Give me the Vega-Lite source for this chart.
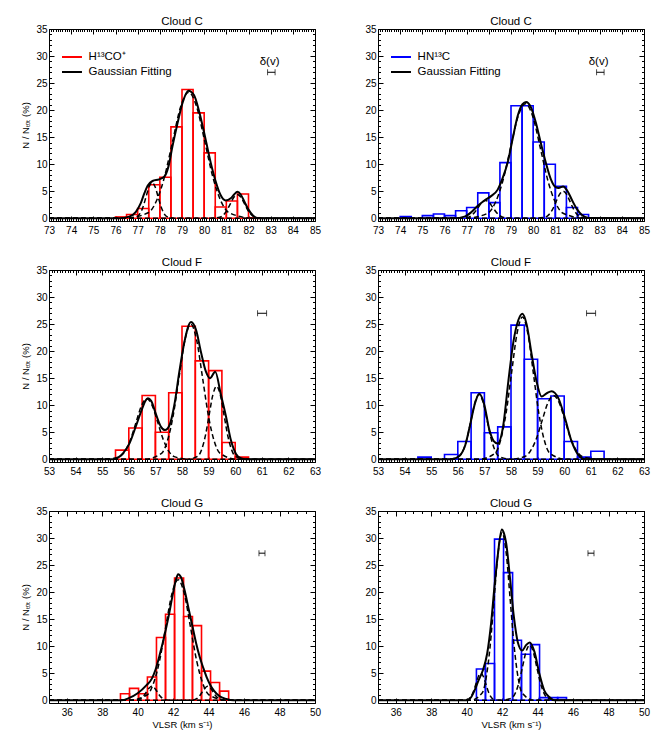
{
  "$schema": "https://vega.github.io/schema/vega-lite/v6.json",
  "background": "white",
  "padding": {"left": 20, "top": 15, "right": 5, "bottom": 5},
  "datasets": {
    "bars": [
      {"p": "C1", "lo": 76, "hi": 76.5, "n": 0.25},
      {"p": "C1", "lo": 76.5, "hi": 77, "n": 0.7},
      {"p": "C1", "lo": 77, "hi": 77.5, "n": 1.8},
      {"p": "C1", "lo": 77.5, "hi": 78, "n": 6.2},
      {"p": "C1", "lo": 78, "hi": 78.5, "n": 7.6},
      {"p": "C1", "lo": 78.5, "hi": 79, "n": 16.9},
      {"p": "C1", "lo": 79, "hi": 79.5, "n": 23.8},
      {"p": "C1", "lo": 79.5, "hi": 80, "n": 19.5},
      {"p": "C1", "lo": 80, "hi": 80.5, "n": 12.1},
      {"p": "C1", "lo": 80.5, "hi": 81, "n": 2.1},
      {"p": "C1", "lo": 81, "hi": 81.5, "n": 3.2},
      {"p": "C1", "lo": 81.5, "hi": 82, "n": 4.5},
      {"p": "C1", "lo": 82, "hi": 82.5, "n": 0.1},
      {"p": "C2", "lo": 74, "hi": 74.5, "n": 0.3},
      {"p": "C2", "lo": 75, "hi": 75.5, "n": 0.5},
      {"p": "C2", "lo": 75.5, "hi": 76, "n": 0.8},
      {"p": "C2", "lo": 76, "hi": 76.5, "n": 0.5},
      {"p": "C2", "lo": 76.5, "hi": 77, "n": 1.4},
      {"p": "C2", "lo": 77, "hi": 77.5, "n": 2.0},
      {"p": "C2", "lo": 77.5, "hi": 78, "n": 4.7},
      {"p": "C2", "lo": 78, "hi": 78.5, "n": 2.9},
      {"p": "C2", "lo": 78.5, "hi": 79, "n": 10.3},
      {"p": "C2", "lo": 79, "hi": 79.5, "n": 20.8},
      {"p": "C2", "lo": 79.5, "hi": 80, "n": 20.8},
      {"p": "C2", "lo": 80, "hi": 80.5, "n": 14.1},
      {"p": "C2", "lo": 80.5, "hi": 81, "n": 10.0},
      {"p": "C2", "lo": 81, "hi": 81.5, "n": 5.9},
      {"p": "C2", "lo": 81.5, "hi": 82, "n": 2.0},
      {"p": "C2", "lo": 82, "hi": 82.5, "n": 0.7},
      {"p": "F1", "lo": 55.5, "hi": 56, "n": 1.7},
      {"p": "F1", "lo": 56, "hi": 56.5, "n": 5.8},
      {"p": "F1", "lo": 56.5, "hi": 57, "n": 11.8},
      {"p": "F1", "lo": 57, "hi": 57.5, "n": 5.0},
      {"p": "F1", "lo": 57.5, "hi": 58, "n": 12.3},
      {"p": "F1", "lo": 58, "hi": 58.5, "n": 24.6},
      {"p": "F1", "lo": 58.5, "hi": 59, "n": 18.2},
      {"p": "F1", "lo": 59, "hi": 59.5, "n": 16.4},
      {"p": "F1", "lo": 59.5, "hi": 60, "n": 3.1},
      {"p": "F1", "lo": 60, "hi": 60.5, "n": 0.4},
      {"p": "F2", "lo": 54.5, "hi": 55, "n": 0.4},
      {"p": "F2", "lo": 55.5, "hi": 56, "n": 0.9},
      {"p": "F2", "lo": 56, "hi": 56.5, "n": 3.3},
      {"p": "F2", "lo": 56.5, "hi": 57, "n": 12.3},
      {"p": "F2", "lo": 57, "hi": 57.5, "n": 4.9},
      {"p": "F2", "lo": 57.5, "hi": 58, "n": 6.0},
      {"p": "F2", "lo": 58, "hi": 58.5, "n": 24.8},
      {"p": "F2", "lo": 58.5, "hi": 59, "n": 18.5},
      {"p": "F2", "lo": 59, "hi": 59.5, "n": 11.2},
      {"p": "F2", "lo": 59.5, "hi": 60, "n": 11.7},
      {"p": "F2", "lo": 60, "hi": 60.5, "n": 3.3},
      {"p": "F2", "lo": 60.5, "hi": 61, "n": 0.4},
      {"p": "F2", "lo": 61, "hi": 61.5, "n": 1.5},
      {"p": "G1", "lo": 39.03, "hi": 39.54, "n": 1.2},
      {"p": "G1", "lo": 39.54, "hi": 40.05, "n": 2.2},
      {"p": "G1", "lo": 40.05, "hi": 40.55, "n": 1.2},
      {"p": "G1", "lo": 40.55, "hi": 41.06, "n": 4.3},
      {"p": "G1", "lo": 41.06, "hi": 41.57, "n": 11.6},
      {"p": "G1", "lo": 41.57, "hi": 42.08, "n": 15.9},
      {"p": "G1", "lo": 42.08, "hi": 42.59, "n": 22.6},
      {"p": "G1", "lo": 42.59, "hi": 43.09, "n": 15.5},
      {"p": "G1", "lo": 43.09, "hi": 43.6, "n": 13.8},
      {"p": "G1", "lo": 43.6, "hi": 44.11, "n": 5.4},
      {"p": "G1", "lo": 44.11, "hi": 44.62, "n": 3.3},
      {"p": "G1", "lo": 44.62, "hi": 45.13, "n": 1.7},
      {"p": "G2", "lo": 40.55, "hi": 41.06, "n": 5.8},
      {"p": "G2", "lo": 41.06, "hi": 41.57, "n": 6.8},
      {"p": "G2", "lo": 41.57, "hi": 42.08, "n": 29.8},
      {"p": "G2", "lo": 42.08, "hi": 42.59, "n": 23.6},
      {"p": "G2", "lo": 42.59, "hi": 43.09, "n": 11.1},
      {"p": "G2", "lo": 43.09, "hi": 43.6, "n": 8.5},
      {"p": "G2", "lo": 43.6, "hi": 44.11, "n": 10.3},
      {"p": "G2", "lo": 44.11, "hi": 44.62, "n": 0.5},
      {"p": "G2", "lo": 44.62, "hi": 45.13, "n": 0.5},
      {"p": "G2", "lo": 45.13, "hi": 45.63, "n": 0.5}
    ],
    "fits": [
      {"p": "C1", "v": 73, "n": 0}, {"p": "C1", "v": 76.17, "n": 0}, {"p": "C1", "v": 76.62, "n": 0.3},
      {"p": "C1", "v": 76.92, "n": 1.2}, {"p": "C1", "v": 77.14, "n": 2.8}, {"p": "C1", "v": 77.3, "n": 4.6},
      {"p": "C1", "v": 77.45, "n": 6.0}, {"p": "C1", "v": 77.67, "n": 6.9}, {"p": "C1", "v": 77.97, "n": 7.2},
      {"p": "C1", "v": 78.2, "n": 7.7}, {"p": "C1", "v": 78.39, "n": 9.6}, {"p": "C1", "v": 78.57, "n": 13.3},
      {"p": "C1", "v": 78.8, "n": 17.6}, {"p": "C1", "v": 79.02, "n": 21.3}, {"p": "C1", "v": 79.29, "n": 23.6},
      {"p": "C1", "v": 79.54, "n": 22.8}, {"p": "C1", "v": 79.77, "n": 19.8}, {"p": "C1", "v": 80.07, "n": 14.5},
      {"p": "C1", "v": 80.3, "n": 10.2}, {"p": "C1", "v": 80.52, "n": 6.8}, {"p": "C1", "v": 80.74, "n": 4.3},
      {"p": "C1", "v": 80.97, "n": 3.3}, {"p": "C1", "v": 81.2, "n": 3.7}, {"p": "C1", "v": 81.35, "n": 4.4},
      {"p": "C1", "v": 81.5, "n": 4.9}, {"p": "C1", "v": 81.65, "n": 4.4}, {"p": "C1", "v": 81.8, "n": 3.2},
      {"p": "C1", "v": 82.0, "n": 1.6}, {"p": "C1", "v": 82.2, "n": 0.5}, {"p": "C1", "v": 82.45, "n": 0},
      {"p": "C1", "v": 85, "n": 0},
      {"p": "C2", "v": 73, "n": 0}, {"p": "C2", "v": 76.45, "n": 0}, {"p": "C2", "v": 76.9, "n": 0.3},
      {"p": "C2", "v": 77.2, "n": 1.1}, {"p": "C2", "v": 77.5, "n": 2.3}, {"p": "C2", "v": 77.8, "n": 3.3},
      {"p": "C2", "v": 78.1, "n": 4.1}, {"p": "C2", "v": 78.4, "n": 5.3}, {"p": "C2", "v": 78.6, "n": 7.2},
      {"p": "C2", "v": 78.85, "n": 10.3}, {"p": "C2", "v": 79.07, "n": 14.6}, {"p": "C2", "v": 79.3, "n": 18.9},
      {"p": "C2", "v": 79.52, "n": 21.1}, {"p": "C2", "v": 79.68, "n": 21.5}, {"p": "C2", "v": 79.9, "n": 20.5},
      {"p": "C2", "v": 80.12, "n": 17.7}, {"p": "C2", "v": 80.34, "n": 14.0}, {"p": "C2", "v": 80.57, "n": 10.3},
      {"p": "C2", "v": 80.8, "n": 7.2}, {"p": "C2", "v": 81.0, "n": 5.8}, {"p": "C2", "v": 81.15, "n": 5.6},
      {"p": "C2", "v": 81.35, "n": 5.9}, {"p": "C2", "v": 81.54, "n": 5.1}, {"p": "C2", "v": 81.76, "n": 3.3},
      {"p": "C2", "v": 81.99, "n": 1.6}, {"p": "C2", "v": 82.2, "n": 0.6}, {"p": "C2", "v": 82.5, "n": 0.05},
      {"p": "C2", "v": 85, "n": 0},
      {"p": "F1", "v": 53, "n": 0}, {"p": "F1", "v": 55.4, "n": 0}, {"p": "F1", "v": 55.59, "n": 0.3},
      {"p": "F1", "v": 55.78, "n": 1.1}, {"p": "F1", "v": 56.03, "n": 3.0}, {"p": "F1", "v": 56.28, "n": 6.3},
      {"p": "F1", "v": 56.46, "n": 8.8}, {"p": "F1", "v": 56.65, "n": 11.0}, {"p": "F1", "v": 56.72, "n": 11.3},
      {"p": "F1", "v": 56.84, "n": 10.8}, {"p": "F1", "v": 57.03, "n": 8.2}, {"p": "F1", "v": 57.21, "n": 6.0},
      {"p": "F1", "v": 57.36, "n": 5.4}, {"p": "F1", "v": 57.53, "n": 6.3}, {"p": "F1", "v": 57.71, "n": 10.0},
      {"p": "F1", "v": 57.9, "n": 16.2}, {"p": "F1", "v": 58.09, "n": 21.7}, {"p": "F1", "v": 58.34, "n": 25.4},
      {"p": "F1", "v": 58.53, "n": 23.9}, {"p": "F1", "v": 58.71, "n": 19.9}, {"p": "F1", "v": 58.9, "n": 16.2},
      {"p": "F1", "v": 59.05, "n": 15.0}, {"p": "F1", "v": 59.25, "n": 16.2}, {"p": "F1", "v": 59.46, "n": 12.0},
      {"p": "F1", "v": 59.65, "n": 8.0}, {"p": "F1", "v": 59.84, "n": 3.5}, {"p": "F1", "v": 60.03, "n": 1.0},
      {"p": "F1", "v": 60.21, "n": 0.2}, {"p": "F1", "v": 60.4, "n": 0}, {"p": "F1", "v": 63, "n": 0},
      {"p": "F2", "v": 53, "n": 0}, {"p": "F2", "v": 55.78, "n": 0}, {"p": "F2", "v": 56.03, "n": 0.5},
      {"p": "F2", "v": 56.28, "n": 2.6}, {"p": "F2", "v": 56.46, "n": 6.3}, {"p": "F2", "v": 56.65, "n": 10.4},
      {"p": "F2", "v": 56.81, "n": 12.1}, {"p": "F2", "v": 57.0, "n": 10.0}, {"p": "F2", "v": 57.19, "n": 5.4},
      {"p": "F2", "v": 57.36, "n": 3.3}, {"p": "F2", "v": 57.5, "n": 2.9}, {"p": "F2", "v": 57.71, "n": 6.3},
      {"p": "F2", "v": 57.9, "n": 14.4}, {"p": "F2", "v": 58.09, "n": 21.7}, {"p": "F2", "v": 58.28, "n": 25.8},
      {"p": "F2", "v": 58.43, "n": 26.9}, {"p": "F2", "v": 58.59, "n": 24.9}, {"p": "F2", "v": 58.78, "n": 19.3},
      {"p": "F2", "v": 58.96, "n": 14.4}, {"p": "F2", "v": 59.15, "n": 11.6}, {"p": "F2", "v": 59.34, "n": 12.2},
      {"p": "F2", "v": 59.53, "n": 12.6}, {"p": "F2", "v": 59.78, "n": 11.3}, {"p": "F2", "v": 60.03, "n": 7.6},
      {"p": "F2", "v": 60.28, "n": 3.3}, {"p": "F2", "v": 60.53, "n": 0.8}, {"p": "F2", "v": 60.78, "n": 0},
      {"p": "F2", "v": 63, "n": 0},
      {"p": "G1", "v": 35, "n": 0}, {"p": "G1", "v": 39.1, "n": 0}, {"p": "G1", "v": 39.5, "n": 0.4},
      {"p": "G1", "v": 40.0, "n": 1.3}, {"p": "G1", "v": 40.5, "n": 2.8}, {"p": "G1", "v": 40.8, "n": 4.0},
      {"p": "G1", "v": 41.0, "n": 5.6}, {"p": "G1", "v": 41.25, "n": 8.5}, {"p": "G1", "v": 41.5, "n": 11.8},
      {"p": "G1", "v": 41.75, "n": 15.6}, {"p": "G1", "v": 42.0, "n": 19.9}, {"p": "G1", "v": 42.15, "n": 22.2},
      {"p": "G1", "v": 42.28, "n": 23.3}, {"p": "G1", "v": 42.45, "n": 22.7}, {"p": "G1", "v": 42.62, "n": 20.7},
      {"p": "G1", "v": 42.9, "n": 16.5}, {"p": "G1", "v": 43.1, "n": 13.5}, {"p": "G1", "v": 43.3, "n": 10.5},
      {"p": "G1", "v": 43.5, "n": 8.0}, {"p": "G1", "v": 43.7, "n": 6.0}, {"p": "G1", "v": 43.9, "n": 4.2},
      {"p": "G1", "v": 44.1, "n": 2.8}, {"p": "G1", "v": 44.3, "n": 1.8}, {"p": "G1", "v": 44.6, "n": 0.8},
      {"p": "G1", "v": 45.0, "n": 0.25}, {"p": "G1", "v": 45.4, "n": 0}, {"p": "G1", "v": 50, "n": 0},
      {"p": "G2", "v": 35, "n": 0}, {"p": "G2", "v": 40.07, "n": 0}, {"p": "G2", "v": 40.26, "n": 0.6},
      {"p": "G2", "v": 40.44, "n": 1.8}, {"p": "G2", "v": 40.67, "n": 3.7}, {"p": "G2", "v": 40.91, "n": 5.5},
      {"p": "G2", "v": 41.16, "n": 8.7}, {"p": "G2", "v": 41.38, "n": 14.3}, {"p": "G2", "v": 41.57, "n": 21.1},
      {"p": "G2", "v": 41.76, "n": 27.0}, {"p": "G2", "v": 41.98, "n": 31.6}, {"p": "G2", "v": 42.1, "n": 30.9},
      {"p": "G2", "v": 42.23, "n": 29.0}, {"p": "G2", "v": 42.45, "n": 22.4}, {"p": "G2", "v": 42.66, "n": 15.5},
      {"p": "G2", "v": 42.88, "n": 10.8}, {"p": "G2", "v": 43.13, "n": 9.2}, {"p": "G2", "v": 43.35, "n": 10.2},
      {"p": "G2", "v": 43.55, "n": 10.7}, {"p": "G2", "v": 43.82, "n": 9.0}, {"p": "G2", "v": 44.1, "n": 4.9},
      {"p": "G2", "v": 44.38, "n": 1.8}, {"p": "G2", "v": 44.66, "n": 0.6}, {"p": "G2", "v": 44.94, "n": 0},
      {"p": "G2", "v": 50, "n": 0}
    ],
    "comps": [
      {"p": "C1", "g": "a", "v": 73, "n": 0}, {"p": "C1", "g": "a", "v": 76.57, "n": 0}, {"p": "C1", "g": "a", "v": 76.975, "n": 0.29}, {"p": "C1", "g": "a", "v": 77.11, "n": 0.89},
      {"p": "C1", "g": "a", "v": 77.245, "n": 2.14}, {"p": "C1", "g": "a", "v": 77.38, "n": 4.0}, {"p": "C1", "g": "a", "v": 77.515, "n": 5.82},
      {"p": "C1", "g": "a", "v": 77.65, "n": 6.6}, {"p": "C1", "g": "a", "v": 77.785, "n": 5.82}, {"p": "C1", "g": "a", "v": 77.92, "n": 4.0},
      {"p": "C1", "g": "a", "v": 78.055, "n": 2.14}, {"p": "C1", "g": "a", "v": 78.19, "n": 0.89}, {"p": "C1", "g": "a", "v": 78.325, "n": 0.29},
      {"p": "C1", "g": "a", "v": 78.73, "n": 0}, {"p": "C1", "g": "a", "v": 85, "n": 0},
      {"p": "C1", "g": "b", "v": 73, "n": 0}, {"p": "C1", "g": "b", "v": 76.38, "n": 0}, {"p": "C1", "g": "b", "v": 77.475, "n": 1.02}, {"p": "C1", "g": "b", "v": 77.84, "n": 3.15},
      {"p": "C1", "g": "b", "v": 78.205, "n": 7.57}, {"p": "C1", "g": "b", "v": 78.57, "n": 14.13}, {"p": "C1", "g": "b", "v": 78.935, "n": 20.56},
      {"p": "C1", "g": "b", "v": 79.3, "n": 23.3}, {"p": "C1", "g": "b", "v": 79.665, "n": 20.56}, {"p": "C1", "g": "b", "v": 80.03, "n": 14.13},
      {"p": "C1", "g": "b", "v": 80.395, "n": 7.57}, {"p": "C1", "g": "b", "v": 80.76, "n": 3.15}, {"p": "C1", "g": "b", "v": 81.125, "n": 1.02},
      {"p": "C1", "g": "b", "v": 82.22, "n": 0}, {"p": "C1", "g": "b", "v": 85, "n": 0},
      {"p": "C1", "g": "c", "v": 73, "n": 0}, {"p": "C1", "g": "c", "v": 80.22, "n": 0}, {"p": "C1", "g": "c", "v": 80.7, "n": 0.19}, {"p": "C1", "g": "c", "v": 80.86, "n": 0.6},
      {"p": "C1", "g": "c", "v": 81.02, "n": 1.43}, {"p": "C1", "g": "c", "v": 81.18, "n": 2.67}, {"p": "C1", "g": "c", "v": 81.34, "n": 3.88},
      {"p": "C1", "g": "c", "v": 81.5, "n": 4.4}, {"p": "C1", "g": "c", "v": 81.66, "n": 3.88}, {"p": "C1", "g": "c", "v": 81.82, "n": 2.67},
      {"p": "C1", "g": "c", "v": 81.98, "n": 1.43}, {"p": "C1", "g": "c", "v": 82.14, "n": 0.6}, {"p": "C1", "g": "c", "v": 82.3, "n": 0.19},
      {"p": "C1", "g": "c", "v": 82.78, "n": 0}, {"p": "C1", "g": "c", "v": 85, "n": 0},
      {"p": "C2", "g": "a", "v": 73, "n": 0}, {"p": "C2", "g": "a", "v": 76.53, "n": 0}, {"p": "C2", "g": "a", "v": 77.025, "n": 0.14}, {"p": "C2", "g": "a", "v": 77.19, "n": 0.45},
      {"p": "C2", "g": "a", "v": 77.355, "n": 1.07}, {"p": "C2", "g": "a", "v": 77.52, "n": 2.0}, {"p": "C2", "g": "a", "v": 77.685, "n": 2.91},
      {"p": "C2", "g": "a", "v": 77.85, "n": 3.3}, {"p": "C2", "g": "a", "v": 78.015, "n": 2.91}, {"p": "C2", "g": "a", "v": 78.18, "n": 2.0},
      {"p": "C2", "g": "a", "v": 78.345, "n": 1.07}, {"p": "C2", "g": "a", "v": 78.51, "n": 0.45}, {"p": "C2", "g": "a", "v": 78.675, "n": 0.14},
      {"p": "C2", "g": "a", "v": 79.17, "n": 0}, {"p": "C2", "g": "a", "v": 85, "n": 0},
      {"p": "C2", "g": "b", "v": 73, "n": 0}, {"p": "C2", "g": "b", "v": 76.93, "n": 0}, {"p": "C2", "g": "b", "v": 77.95, "n": 0.93}, {"p": "C2", "g": "b", "v": 78.29, "n": 2.87},
      {"p": "C2", "g": "b", "v": 78.63, "n": 6.88}, {"p": "C2", "g": "b", "v": 78.97, "n": 12.86}, {"p": "C2", "g": "b", "v": 79.31, "n": 18.71},
      {"p": "C2", "g": "b", "v": 79.65, "n": 21.2}, {"p": "C2", "g": "b", "v": 79.99, "n": 18.71}, {"p": "C2", "g": "b", "v": 80.33, "n": 12.86},
      {"p": "C2", "g": "b", "v": 80.67, "n": 6.88}, {"p": "C2", "g": "b", "v": 81.01, "n": 2.87}, {"p": "C2", "g": "b", "v": 81.35, "n": 0.93},
      {"p": "C2", "g": "b", "v": 82.37, "n": 0}, {"p": "C2", "g": "b", "v": 85, "n": 0},
      {"p": "C2", "g": "c", "v": 73, "n": 0}, {"p": "C2", "g": "c", "v": 80.07, "n": 0}, {"p": "C2", "g": "c", "v": 80.55, "n": 0.22}, {"p": "C2", "g": "c", "v": 80.71, "n": 0.68},
      {"p": "C2", "g": "c", "v": 80.87, "n": 1.62}, {"p": "C2", "g": "c", "v": 81.03, "n": 3.03}, {"p": "C2", "g": "c", "v": 81.19, "n": 4.41},
      {"p": "C2", "g": "c", "v": 81.35, "n": 5.0}, {"p": "C2", "g": "c", "v": 81.51, "n": 4.41}, {"p": "C2", "g": "c", "v": 81.67, "n": 3.03},
      {"p": "C2", "g": "c", "v": 81.83, "n": 1.62}, {"p": "C2", "g": "c", "v": 81.99, "n": 0.68}, {"p": "C2", "g": "c", "v": 82.15, "n": 0.22},
      {"p": "C2", "g": "c", "v": 82.63, "n": 0}, {"p": "C2", "g": "c", "v": 85, "n": 0},
      {"p": "F1", "g": "a", "v": 53, "n": 0}, {"p": "F1", "g": "a", "v": 55.04, "n": 0}, {"p": "F1", "g": "a", "v": 55.655, "n": 0.49}, {"p": "F1", "g": "a", "v": 55.86, "n": 1.52},
      {"p": "F1", "g": "a", "v": 56.065, "n": 3.64}, {"p": "F1", "g": "a", "v": 56.27, "n": 6.79}, {"p": "F1", "g": "a", "v": 56.475, "n": 9.88},
      {"p": "F1", "g": "a", "v": 56.68, "n": 11.2}, {"p": "F1", "g": "a", "v": 56.885, "n": 9.88}, {"p": "F1", "g": "a", "v": 57.09, "n": 6.79},
      {"p": "F1", "g": "a", "v": 57.295, "n": 3.64}, {"p": "F1", "g": "a", "v": 57.5, "n": 1.52}, {"p": "F1", "g": "a", "v": 57.705, "n": 0.49},
      {"p": "F1", "g": "a", "v": 58.32, "n": 0}, {"p": "F1", "g": "a", "v": 63, "n": 0},
      {"p": "F1", "g": "b", "v": 53, "n": 0}, {"p": "F1", "g": "b", "v": 56.57, "n": 0}, {"p": "F1", "g": "b", "v": 57.23, "n": 1.1}, {"p": "F1", "g": "b", "v": 57.45, "n": 3.38},
      {"p": "F1", "g": "b", "v": 57.67, "n": 8.12}, {"p": "F1", "g": "b", "v": 57.89, "n": 15.16}, {"p": "F1", "g": "b", "v": 58.11, "n": 22.06},
      {"p": "F1", "g": "b", "v": 58.33, "n": 25.0}, {"p": "F1", "g": "b", "v": 58.55, "n": 22.06}, {"p": "F1", "g": "b", "v": 58.77, "n": 15.16},
      {"p": "F1", "g": "b", "v": 58.99, "n": 8.12}, {"p": "F1", "g": "b", "v": 59.21, "n": 3.38}, {"p": "F1", "g": "b", "v": 59.43, "n": 1.1},
      {"p": "F1", "g": "b", "v": 60.09, "n": 0}, {"p": "F1", "g": "b", "v": 63, "n": 0},
      {"p": "F1", "g": "c", "v": 53, "n": 0}, {"p": "F1", "g": "c", "v": 58.18, "n": 0}, {"p": "F1", "g": "c", "v": 58.6, "n": 0.59}, {"p": "F1", "g": "c", "v": 58.74, "n": 1.83},
      {"p": "F1", "g": "c", "v": 58.88, "n": 4.38}, {"p": "F1", "g": "c", "v": 59.02, "n": 8.19}, {"p": "F1", "g": "c", "v": 59.16, "n": 11.91},
      {"p": "F1", "g": "c", "v": 59.3, "n": 13.5}, {"p": "F1", "g": "c", "v": 59.44, "n": 11.91}, {"p": "F1", "g": "c", "v": 59.58, "n": 8.19},
      {"p": "F1", "g": "c", "v": 59.72, "n": 4.38}, {"p": "F1", "g": "c", "v": 59.86, "n": 1.83}, {"p": "F1", "g": "c", "v": 60.0, "n": 0.59},
      {"p": "F1", "g": "c", "v": 60.42, "n": 0}, {"p": "F1", "g": "c", "v": 63, "n": 0},
      {"p": "F2", "g": "a", "v": 53, "n": 0}, {"p": "F2", "g": "a", "v": 55.6, "n": 0}, {"p": "F2", "g": "a", "v": 56.05, "n": 0.53}, {"p": "F2", "g": "a", "v": 56.2, "n": 1.62},
      {"p": "F2", "g": "a", "v": 56.35, "n": 3.9}, {"p": "F2", "g": "a", "v": 56.5, "n": 7.28}, {"p": "F2", "g": "a", "v": 56.65, "n": 10.59},
      {"p": "F2", "g": "a", "v": 56.8, "n": 12.0}, {"p": "F2", "g": "a", "v": 56.95, "n": 10.59}, {"p": "F2", "g": "a", "v": 57.1, "n": 7.28},
      {"p": "F2", "g": "a", "v": 57.25, "n": 3.9}, {"p": "F2", "g": "a", "v": 57.4, "n": 1.62}, {"p": "F2", "g": "a", "v": 57.55, "n": 0.53},
      {"p": "F2", "g": "a", "v": 58.0, "n": 0}, {"p": "F2", "g": "a", "v": 63, "n": 0},
      {"p": "F2", "g": "b", "v": 53, "n": 0}, {"p": "F2", "g": "b", "v": 56.79, "n": 0}, {"p": "F2", "g": "b", "v": 57.405, "n": 1.15}, {"p": "F2", "g": "b", "v": 57.61, "n": 3.56},
      {"p": "F2", "g": "b", "v": 57.815, "n": 8.54}, {"p": "F2", "g": "b", "v": 58.02, "n": 15.95}, {"p": "F2", "g": "b", "v": 58.225, "n": 23.21},
      {"p": "F2", "g": "b", "v": 58.43, "n": 26.3}, {"p": "F2", "g": "b", "v": 58.635, "n": 23.21}, {"p": "F2", "g": "b", "v": 58.84, "n": 15.95},
      {"p": "F2", "g": "b", "v": 59.045, "n": 8.54}, {"p": "F2", "g": "b", "v": 59.25, "n": 3.56}, {"p": "F2", "g": "b", "v": 59.455, "n": 1.15},
      {"p": "F2", "g": "b", "v": 60.07, "n": 0}, {"p": "F2", "g": "b", "v": 63, "n": 0},
      {"p": "F2", "g": "c", "v": 53, "n": 0}, {"p": "F2", "g": "c", "v": 57.88, "n": 0}, {"p": "F2", "g": "c", "v": 58.525, "n": 0.52}, {"p": "F2", "g": "c", "v": 58.74, "n": 1.6},
      {"p": "F2", "g": "c", "v": 58.955, "n": 3.83}, {"p": "F2", "g": "c", "v": 59.17, "n": 7.16}, {"p": "F2", "g": "c", "v": 59.385, "n": 10.41},
      {"p": "F2", "g": "c", "v": 59.6, "n": 11.8}, {"p": "F2", "g": "c", "v": 59.815, "n": 10.41}, {"p": "F2", "g": "c", "v": 60.03, "n": 7.16},
      {"p": "F2", "g": "c", "v": 60.245, "n": 3.83}, {"p": "F2", "g": "c", "v": 60.46, "n": 1.6}, {"p": "F2", "g": "c", "v": 60.675, "n": 0.52},
      {"p": "F2", "g": "c", "v": 61.32, "n": 0}, {"p": "F2", "g": "c", "v": 63, "n": 0},
      {"p": "G1", "g": "a", "v": 35, "n": 0}, {"p": "G1", "g": "a", "v": 39.6, "n": 0}, {"p": "G1", "g": "a", "v": 40.05, "n": 0.11}, {"p": "G1", "g": "a", "v": 40.2, "n": 0.35},
      {"p": "G1", "g": "a", "v": 40.35, "n": 0.84}, {"p": "G1", "g": "a", "v": 40.5, "n": 1.58}, {"p": "G1", "g": "a", "v": 40.65, "n": 2.29},
      {"p": "G1", "g": "a", "v": 40.8, "n": 2.6}, {"p": "G1", "g": "a", "v": 40.95, "n": 2.29}, {"p": "G1", "g": "a", "v": 41.1, "n": 1.58},
      {"p": "G1", "g": "a", "v": 41.25, "n": 0.84}, {"p": "G1", "g": "a", "v": 41.4, "n": 0.35}, {"p": "G1", "g": "a", "v": 41.55, "n": 0.11},
      {"p": "G1", "g": "a", "v": 42.0, "n": 0}, {"p": "G1", "g": "a", "v": 50, "n": 0},
      {"p": "G1", "g": "b", "v": 35, "n": 0}, {"p": "G1", "g": "b", "v": 39.48, "n": 0}, {"p": "G1", "g": "b", "v": 40.53, "n": 0.98}, {"p": "G1", "g": "b", "v": 40.88, "n": 3.02},
      {"p": "G1", "g": "b", "v": 41.23, "n": 7.24}, {"p": "G1", "g": "b", "v": 41.58, "n": 13.52}, {"p": "G1", "g": "b", "v": 41.93, "n": 19.68},
      {"p": "G1", "g": "b", "v": 42.28, "n": 22.3}, {"p": "G1", "g": "b", "v": 42.63, "n": 19.68}, {"p": "G1", "g": "b", "v": 42.98, "n": 13.52},
      {"p": "G1", "g": "b", "v": 43.33, "n": 7.24}, {"p": "G1", "g": "b", "v": 43.68, "n": 3.02}, {"p": "G1", "g": "b", "v": 44.03, "n": 0.98},
      {"p": "G1", "g": "b", "v": 45.08, "n": 0}, {"p": "G1", "g": "b", "v": 50, "n": 0},
      {"p": "G1", "g": "c", "v": 35, "n": 0}, {"p": "G1", "g": "c", "v": 42.75, "n": 0}, {"p": "G1", "g": "c", "v": 43.2, "n": 0.11}, {"p": "G1", "g": "c", "v": 43.35, "n": 0.35},
      {"p": "G1", "g": "c", "v": 43.5, "n": 0.84}, {"p": "G1", "g": "c", "v": 43.65, "n": 1.58}, {"p": "G1", "g": "c", "v": 43.8, "n": 2.29},
      {"p": "G1", "g": "c", "v": 43.95, "n": 2.6}, {"p": "G1", "g": "c", "v": 44.1, "n": 2.29}, {"p": "G1", "g": "c", "v": 44.25, "n": 1.58},
      {"p": "G1", "g": "c", "v": 44.4, "n": 0.84}, {"p": "G1", "g": "c", "v": 44.55, "n": 0.35}, {"p": "G1", "g": "c", "v": 44.7, "n": 0.11},
      {"p": "G1", "g": "c", "v": 45.15, "n": 0}, {"p": "G1", "g": "c", "v": 50, "n": 0},
      {"p": "G2", "g": "a", "v": 35, "n": 0}, {"p": "G2", "g": "a", "v": 39.68, "n": 0}, {"p": "G2", "g": "a", "v": 40.1, "n": 0.22}, {"p": "G2", "g": "a", "v": 40.24, "n": 0.68},
      {"p": "G2", "g": "a", "v": 40.38, "n": 1.62}, {"p": "G2", "g": "a", "v": 40.52, "n": 3.03}, {"p": "G2", "g": "a", "v": 40.66, "n": 4.41},
      {"p": "G2", "g": "a", "v": 40.8, "n": 5.0}, {"p": "G2", "g": "a", "v": 40.94, "n": 4.41}, {"p": "G2", "g": "a", "v": 41.08, "n": 3.03},
      {"p": "G2", "g": "a", "v": 41.22, "n": 1.62}, {"p": "G2", "g": "a", "v": 41.36, "n": 0.68}, {"p": "G2", "g": "a", "v": 41.5, "n": 0.22},
      {"p": "G2", "g": "a", "v": 41.92, "n": 0}, {"p": "G2", "g": "a", "v": 50, "n": 0},
      {"p": "G2", "g": "b", "v": 35, "n": 0}, {"p": "G2", "g": "b", "v": 40.2, "n": 0}, {"p": "G2", "g": "b", "v": 40.875, "n": 1.36}, {"p": "G2", "g": "b", "v": 41.1, "n": 4.19},
      {"p": "G2", "g": "b", "v": 41.325, "n": 10.07}, {"p": "G2", "g": "b", "v": 41.55, "n": 18.8}, {"p": "G2", "g": "b", "v": 41.775, "n": 27.36},
      {"p": "G2", "g": "b", "v": 42.0, "n": 31.0}, {"p": "G2", "g": "b", "v": 42.225, "n": 27.36}, {"p": "G2", "g": "b", "v": 42.45, "n": 18.8},
      {"p": "G2", "g": "b", "v": 42.675, "n": 10.07}, {"p": "G2", "g": "b", "v": 42.9, "n": 4.19}, {"p": "G2", "g": "b", "v": 43.125, "n": 1.36},
      {"p": "G2", "g": "b", "v": 43.8, "n": 0}, {"p": "G2", "g": "b", "v": 50, "n": 0},
      {"p": "G2", "g": "c", "v": 35, "n": 0}, {"p": "G2", "g": "c", "v": 41.95, "n": 0}, {"p": "G2", "g": "c", "v": 42.55, "n": 0.45}, {"p": "G2", "g": "c", "v": 42.75, "n": 1.38},
      {"p": "G2", "g": "c", "v": 42.95, "n": 3.31}, {"p": "G2", "g": "c", "v": 43.15, "n": 6.19}, {"p": "G2", "g": "c", "v": 43.35, "n": 9.0},
      {"p": "G2", "g": "c", "v": 43.55, "n": 10.2}, {"p": "G2", "g": "c", "v": 43.75, "n": 9.0}, {"p": "G2", "g": "c", "v": 43.95, "n": 6.19},
      {"p": "G2", "g": "c", "v": 44.15, "n": 3.31}, {"p": "G2", "g": "c", "v": 44.35, "n": 1.38}, {"p": "G2", "g": "c", "v": 44.55, "n": 0.45},
      {"p": "G2", "g": "c", "v": 45.15, "n": 0}, {"p": "G2", "g": "c", "v": 50, "n": 0}
    ],
    "res": [
      {"p": "C1", "lo": 82.86, "hi": 83.2, "y": 27.0},
      {"p": "C2", "lo": 82.86, "hi": 83.2, "y": 27.0},
      {"p": "F1", "lo": 60.84, "hi": 61.18, "y": 27.0},
      {"p": "F2", "lo": 60.84, "hi": 61.18, "y": 27.0},
      {"p": "G1", "lo": 46.84, "hi": 47.18, "y": 27.2},
      {"p": "G2", "lo": 46.84, "hi": 47.18, "y": 27.2}
    ]
  },
  "columns": 2,
  "spacing": {"row": 20, "column": 42},
  "concat": [
    {
      "width": 266, "height": 192,
      "title": "Cloud C",
      "layer": [
        {
          "data": {"name": "bars"},
          "transform": [{"filter": "datum.p == 'C1'"}],
          "mark": {"type": "rect", "filled": false, "strokeWidth": 1.6},
          "encoding": {
            "x": {"field": "lo", "type": "quantitative", "scale": {"domain": [73, 85], "nice": false, "zero": false},
                  "axis": {"orient": "bottom", "values": [73, 74, 75, 76, 77, 78, 79, 80, 81, 82, 83, 84, 85], "tickSize": -5, "labelPadding": 9, "labelFlush": false, "labelOverlap": false, "title": null}},
            "x2": {"field": "hi"},
            "y": {"field": "n", "type": "quantitative", "scale": {"domain": [-0.5, 35], "nice": false, "zero": false},
                  "axis": {"orient": "left", "values": [0, 5, 10, 15, 20, 25, 30, 35], "tickSize": -5, "labelPadding": 7, "title": "N / Nₜₒₜ (%)", "titlePadding": 5}},
            "y2": {"datum": 0},
            "stroke": {"datum": "H¹³CO⁺", "scale": {"domain": ["H¹³CO⁺", "Gaussian Fitting"], "range": ["#ff0000", "#000000"]},
                       "legend": {"orient": "top-left", "title": null, "offset": 17, "padding": 3, "symbolType": "M-2.14,0H0.71", "symbolSize": 196, "symbolStrokeWidth": 2, "labelFontSize": 11.5, "labelOffset": 3.6, "rowPadding": 1, "labelColor": "#000000"}}
          }
        },
        {
          "data": {"name": "comps"},
          "transform": [{"filter": "datum.p == 'C1'"}],
          "mark": {"type": "line", "interpolate": "monotone", "stroke": "#000000", "strokeWidth": 1.5, "strokeDash": [5, 3]},
          "encoding": {
            "x": {"field": "v", "type": "quantitative", "axis": {"orient": "bottom", "tickCount": 120, "tickSize": -2.5, "labels": false, "title": null}},
            "y": {"field": "n", "type": "quantitative", "axis": {"orient": "left", "tickCount": 35, "tickSize": -2.5, "labels": false, "title": null}},
            "detail": {"field": "g"}
          }
        },
        {
          "data": {"name": "fits"},
          "transform": [{"filter": "datum.p == 'C1'"}],
          "mark": {"type": "line", "interpolate": "monotone", "strokeWidth": 2},
          "encoding": {
            "x": {"field": "v", "type": "quantitative", "axis": {"orient": "top", "values": [73, 74, 75, 76, 77, 78, 79, 80, 81, 82, 83, 84, 85], "tickSize": -5, "labels": false, "title": null}},
            "y": {"field": "n", "type": "quantitative", "axis": {"orient": "right", "values": [0, 5, 10, 15, 20, 25, 30, 35], "tickSize": -5, "labels": false, "title": null}},
            "stroke": {"datum": "Gaussian Fitting"}
          }
        },
        {
          "data": {"name": "res"},
          "transform": [{"filter": "datum.p == 'C1'"}],
          "mark": {"type": "rule", "stroke": "#000000", "strokeWidth": 1},
          "encoding": {
            "x": {"field": "lo", "type": "quantitative", "axis": {"orient": "top", "tickCount": 120, "tickSize": -2.5, "labels": false, "title": null}},
            "x2": {"field": "hi"},
            "y": {"field": "y", "type": "quantitative", "axis": {"orient": "right", "tickCount": 35, "tickSize": -2.5, "labels": false, "title": null}}
          }
        },
        {
          "data": {"name": "res"},
          "transform": [{"filter": "datum.p == 'C1'"}, {"fold": ["lo", "hi"]}],
          "mark": {"type": "tick", "orient": "vertical", "size": 6, "thickness": 1, "color": "#000000"},
          "encoding": {
            "x": {"field": "value", "type": "quantitative", "axis": null},
            "y": {"field": "y", "type": "quantitative", "axis": null}
          }
        },
        {
          "data": {"name": "res"},
          "transform": [{"filter": "datum.p == 'C1'"}],
          "mark": {"type": "text", "text": "δ(v)", "fontSize": 11.5, "color": "#000000"},
          "encoding": {"x": {"datum": 82.95, "axis": null}, "y": {"datum": 28.9, "axis": null}}
        }
      ],
      "resolve": {"axis": {"x": "independent", "y": "independent"}}
    },
    {
      "width": 266, "height": 192,
      "title": "Cloud C",
      "layer": [
        {
          "data": {"name": "bars"},
          "transform": [{"filter": "datum.p == 'C2'"}],
          "mark": {"type": "rect", "filled": false, "strokeWidth": 1.6},
          "encoding": {
            "x": {"field": "lo", "type": "quantitative", "scale": {"domain": [73, 85], "nice": false, "zero": false},
                  "axis": {"orient": "bottom", "values": [73, 74, 75, 76, 77, 78, 79, 80, 81, 82, 83, 84, 85], "tickSize": -5, "labelPadding": 9, "labelFlush": false, "labelOverlap": false, "title": null}},
            "x2": {"field": "hi"},
            "y": {"field": "n", "type": "quantitative", "scale": {"domain": [-0.5, 35], "nice": false, "zero": false},
                  "axis": {"orient": "left", "values": [0, 5, 10, 15, 20, 25, 30, 35], "tickSize": -5, "labelPadding": 7, "title": null}},
            "y2": {"datum": 0},
            "stroke": {"datum": "HN¹³C", "scale": {"domain": ["HN¹³C", "Gaussian Fitting"], "range": ["#0000ff", "#000000"]},
                       "legend": {"orient": "top-left", "title": null, "offset": 17, "padding": 3, "symbolType": "M-2.14,0H0.71", "symbolSize": 196, "symbolStrokeWidth": 2, "labelFontSize": 11.5, "labelOffset": 3.6, "rowPadding": 1, "labelColor": "#000000"}}
          }
        },
        {
          "data": {"name": "comps"},
          "transform": [{"filter": "datum.p == 'C2'"}],
          "mark": {"type": "line", "interpolate": "monotone", "stroke": "#000000", "strokeWidth": 1.5, "strokeDash": [5, 3]},
          "encoding": {
            "x": {"field": "v", "type": "quantitative", "axis": {"orient": "bottom", "tickCount": 120, "tickSize": -2.5, "labels": false, "title": null}},
            "y": {"field": "n", "type": "quantitative", "axis": {"orient": "left", "tickCount": 35, "tickSize": -2.5, "labels": false, "title": null}},
            "detail": {"field": "g"}
          }
        },
        {
          "data": {"name": "fits"},
          "transform": [{"filter": "datum.p == 'C2'"}],
          "mark": {"type": "line", "interpolate": "monotone", "strokeWidth": 2},
          "encoding": {
            "x": {"field": "v", "type": "quantitative", "axis": {"orient": "top", "values": [73, 74, 75, 76, 77, 78, 79, 80, 81, 82, 83, 84, 85], "tickSize": -5, "labels": false, "title": null}},
            "y": {"field": "n", "type": "quantitative", "axis": {"orient": "right", "values": [0, 5, 10, 15, 20, 25, 30, 35], "tickSize": -5, "labels": false, "title": null}},
            "stroke": {"datum": "Gaussian Fitting"}
          }
        },
        {
          "data": {"name": "res"},
          "transform": [{"filter": "datum.p == 'C2'"}],
          "mark": {"type": "rule", "stroke": "#000000", "strokeWidth": 1},
          "encoding": {
            "x": {"field": "lo", "type": "quantitative", "axis": {"orient": "top", "tickCount": 120, "tickSize": -2.5, "labels": false, "title": null}},
            "x2": {"field": "hi"},
            "y": {"field": "y", "type": "quantitative", "axis": {"orient": "right", "tickCount": 35, "tickSize": -2.5, "labels": false, "title": null}}
          }
        },
        {
          "data": {"name": "res"},
          "transform": [{"filter": "datum.p == 'C2'"}, {"fold": ["lo", "hi"]}],
          "mark": {"type": "tick", "orient": "vertical", "size": 6, "thickness": 1, "color": "#000000"},
          "encoding": {
            "x": {"field": "value", "type": "quantitative", "axis": null},
            "y": {"field": "y", "type": "quantitative", "axis": null}
          }
        },
        {
          "data": {"name": "res"},
          "transform": [{"filter": "datum.p == 'C2'"}],
          "mark": {"type": "text", "text": "δ(v)", "fontSize": 11.5, "color": "#000000"},
          "encoding": {"x": {"datum": 82.95, "axis": null}, "y": {"datum": 28.9, "axis": null}}
        }
      ],
      "resolve": {"axis": {"x": "independent", "y": "independent"}}
    },
    {
      "width": 266, "height": 192,
      "title": "Cloud F",
      "layer": [
        {
          "data": {"name": "bars"},
          "transform": [{"filter": "datum.p == 'F1'"}],
          "mark": {"type": "rect", "filled": false, "stroke": "#ff0000", "strokeWidth": 1.6},
          "encoding": {
            "x": {"field": "lo", "type": "quantitative", "scale": {"domain": [53, 63], "nice": false, "zero": false},
                  "axis": {"orient": "bottom", "values": [53, 54, 55, 56, 57, 58, 59, 60, 61, 62, 63], "tickSize": -5, "labelPadding": 9, "labelFlush": false, "labelOverlap": false, "title": null}},
            "x2": {"field": "hi"},
            "y": {"field": "n", "type": "quantitative", "scale": {"domain": [-0.5, 35], "nice": false, "zero": false},
                  "axis": {"orient": "left", "values": [0, 5, 10, 15, 20, 25, 30, 35], "tickSize": -5, "labelPadding": 7, "title": "N / Nₜₒₜ (%)", "titlePadding": 5}},
            "y2": {"datum": 0}
          }
        },
        {
          "data": {"name": "comps"},
          "transform": [{"filter": "datum.p == 'F1'"}],
          "mark": {"type": "line", "interpolate": "monotone", "stroke": "#000000", "strokeWidth": 1.5, "strokeDash": [5, 3]},
          "encoding": {
            "x": {"field": "v", "type": "quantitative", "axis": {"orient": "bottom", "tickCount": 100, "tickSize": -2.5, "labels": false, "title": null}},
            "y": {"field": "n", "type": "quantitative", "axis": {"orient": "left", "tickCount": 35, "tickSize": -2.5, "labels": false, "title": null}},
            "detail": {"field": "g"}
          }
        },
        {
          "data": {"name": "fits"},
          "transform": [{"filter": "datum.p == 'F1'"}],
          "mark": {"type": "line", "interpolate": "monotone", "stroke": "#000000", "strokeWidth": 2},
          "encoding": {
            "x": {"field": "v", "type": "quantitative", "axis": {"orient": "top", "values": [53, 54, 55, 56, 57, 58, 59, 60, 61, 62, 63], "tickSize": -5, "labels": false, "title": null}},
            "y": {"field": "n", "type": "quantitative", "axis": {"orient": "right", "values": [0, 5, 10, 15, 20, 25, 30, 35], "tickSize": -5, "labels": false, "title": null}}
          }
        },
        {
          "data": {"name": "res"},
          "transform": [{"filter": "datum.p == 'F1'"}],
          "mark": {"type": "rule", "stroke": "#000000", "strokeWidth": 1},
          "encoding": {
            "x": {"field": "lo", "type": "quantitative", "axis": {"orient": "top", "tickCount": 100, "tickSize": -2.5, "labels": false, "title": null}},
            "x2": {"field": "hi"},
            "y": {"field": "y", "type": "quantitative", "axis": {"orient": "right", "tickCount": 35, "tickSize": -2.5, "labels": false, "title": null}}
          }
        },
        {
          "data": {"name": "res"},
          "transform": [{"filter": "datum.p == 'F1'"}, {"fold": ["lo", "hi"]}],
          "mark": {"type": "tick", "orient": "vertical", "size": 6, "thickness": 1, "color": "#000000"},
          "encoding": {
            "x": {"field": "value", "type": "quantitative", "axis": null},
            "y": {"field": "y", "type": "quantitative", "axis": null}
          }
        }
      ],
      "resolve": {"axis": {"x": "independent", "y": "independent"}}
    },
    {
      "width": 266, "height": 192,
      "title": "Cloud F",
      "layer": [
        {
          "data": {"name": "bars"},
          "transform": [{"filter": "datum.p == 'F2'"}],
          "mark": {"type": "rect", "filled": false, "stroke": "#0000ff", "strokeWidth": 1.6},
          "encoding": {
            "x": {"field": "lo", "type": "quantitative", "scale": {"domain": [53, 63], "nice": false, "zero": false},
                  "axis": {"orient": "bottom", "values": [53, 54, 55, 56, 57, 58, 59, 60, 61, 62, 63], "tickSize": -5, "labelPadding": 9, "labelFlush": false, "labelOverlap": false, "title": null}},
            "x2": {"field": "hi"},
            "y": {"field": "n", "type": "quantitative", "scale": {"domain": [-0.5, 35], "nice": false, "zero": false},
                  "axis": {"orient": "left", "values": [0, 5, 10, 15, 20, 25, 30, 35], "tickSize": -5, "labelPadding": 7, "title": null}},
            "y2": {"datum": 0}
          }
        },
        {
          "data": {"name": "comps"},
          "transform": [{"filter": "datum.p == 'F2'"}],
          "mark": {"type": "line", "interpolate": "monotone", "stroke": "#000000", "strokeWidth": 1.5, "strokeDash": [5, 3]},
          "encoding": {
            "x": {"field": "v", "type": "quantitative", "axis": {"orient": "bottom", "tickCount": 100, "tickSize": -2.5, "labels": false, "title": null}},
            "y": {"field": "n", "type": "quantitative", "axis": {"orient": "left", "tickCount": 35, "tickSize": -2.5, "labels": false, "title": null}},
            "detail": {"field": "g"}
          }
        },
        {
          "data": {"name": "fits"},
          "transform": [{"filter": "datum.p == 'F2'"}],
          "mark": {"type": "line", "interpolate": "monotone", "stroke": "#000000", "strokeWidth": 2},
          "encoding": {
            "x": {"field": "v", "type": "quantitative", "axis": {"orient": "top", "values": [53, 54, 55, 56, 57, 58, 59, 60, 61, 62, 63], "tickSize": -5, "labels": false, "title": null}},
            "y": {"field": "n", "type": "quantitative", "axis": {"orient": "right", "values": [0, 5, 10, 15, 20, 25, 30, 35], "tickSize": -5, "labels": false, "title": null}}
          }
        },
        {
          "data": {"name": "res"},
          "transform": [{"filter": "datum.p == 'F2'"}],
          "mark": {"type": "rule", "stroke": "#000000", "strokeWidth": 1},
          "encoding": {
            "x": {"field": "lo", "type": "quantitative", "axis": {"orient": "top", "tickCount": 100, "tickSize": -2.5, "labels": false, "title": null}},
            "x2": {"field": "hi"},
            "y": {"field": "y", "type": "quantitative", "axis": {"orient": "right", "tickCount": 35, "tickSize": -2.5, "labels": false, "title": null}}
          }
        },
        {
          "data": {"name": "res"},
          "transform": [{"filter": "datum.p == 'F2'"}, {"fold": ["lo", "hi"]}],
          "mark": {"type": "tick", "orient": "vertical", "size": 6, "thickness": 1, "color": "#000000"},
          "encoding": {
            "x": {"field": "value", "type": "quantitative", "axis": null},
            "y": {"field": "y", "type": "quantitative", "axis": null}
          }
        }
      ],
      "resolve": {"axis": {"x": "independent", "y": "independent"}}
    },
    {
      "width": 266, "height": 192,
      "title": "Cloud G",
      "layer": [
        {
          "data": {"name": "bars"},
          "transform": [{"filter": "datum.p == 'G1'"}],
          "mark": {"type": "rect", "filled": false, "stroke": "#ff0000", "strokeWidth": 1.6},
          "encoding": {
            "x": {"field": "lo", "type": "quantitative", "scale": {"domain": [35, 50], "nice": false, "zero": false},
                  "axis": {"orient": "bottom", "values": [36, 38, 40, 42, 44, 46, 48, 50], "tickSize": -5, "labelPadding": 9, "labelFlush": false, "labelOverlap": false, "title": "VLSR (km s⁻¹)", "titlePadding": 2}},
            "x2": {"field": "hi"},
            "y": {"field": "n", "type": "quantitative", "scale": {"domain": [-0.5, 35], "nice": false, "zero": false},
                  "axis": {"orient": "left", "values": [0, 5, 10, 15, 20, 25, 30, 35], "tickSize": -5, "labelPadding": 7, "title": "N / Nₜₒₜ (%)", "titlePadding": 5}},
            "y2": {"datum": 0}
          }
        },
        {
          "data": {"name": "comps"},
          "transform": [{"filter": "datum.p == 'G1'"}],
          "mark": {"type": "line", "interpolate": "monotone", "stroke": "#000000", "strokeWidth": 1.5, "strokeDash": [5, 3]},
          "encoding": {
            "x": {"field": "v", "type": "quantitative", "axis": {"orient": "bottom", "tickCount": 30, "tickSize": -2.5, "labels": false, "title": null}},
            "y": {"field": "n", "type": "quantitative", "axis": {"orient": "left", "tickCount": 35, "tickSize": -2.5, "labels": false, "title": null}},
            "detail": {"field": "g"}
          }
        },
        {
          "data": {"name": "fits"},
          "transform": [{"filter": "datum.p == 'G1'"}],
          "mark": {"type": "line", "interpolate": "monotone", "stroke": "#000000", "strokeWidth": 2},
          "encoding": {
            "x": {"field": "v", "type": "quantitative", "axis": {"orient": "top", "values": [36, 38, 40, 42, 44, 46, 48, 50], "tickSize": -5, "labels": false, "title": null}},
            "y": {"field": "n", "type": "quantitative", "axis": {"orient": "right", "values": [0, 5, 10, 15, 20, 25, 30, 35], "tickSize": -5, "labels": false, "title": null}}
          }
        },
        {
          "data": {"name": "res"},
          "transform": [{"filter": "datum.p == 'G1'"}],
          "mark": {"type": "rule", "stroke": "#000000", "strokeWidth": 1},
          "encoding": {
            "x": {"field": "lo", "type": "quantitative", "axis": {"orient": "top", "tickCount": 30, "tickSize": -2.5, "labels": false, "title": null}},
            "x2": {"field": "hi"},
            "y": {"field": "y", "type": "quantitative", "axis": {"orient": "right", "tickCount": 35, "tickSize": -2.5, "labels": false, "title": null}}
          }
        },
        {
          "data": {"name": "res"},
          "transform": [{"filter": "datum.p == 'G1'"}, {"fold": ["lo", "hi"]}],
          "mark": {"type": "tick", "orient": "vertical", "size": 6, "thickness": 1, "color": "#000000"},
          "encoding": {
            "x": {"field": "value", "type": "quantitative", "axis": null},
            "y": {"field": "y", "type": "quantitative", "axis": null}
          }
        }
      ],
      "resolve": {"axis": {"x": "independent", "y": "independent"}}
    },
    {
      "width": 266, "height": 192,
      "title": "Cloud G",
      "layer": [
        {
          "data": {"name": "bars"},
          "transform": [{"filter": "datum.p == 'G2'"}],
          "mark": {"type": "rect", "filled": false, "stroke": "#0000ff", "strokeWidth": 1.6},
          "encoding": {
            "x": {"field": "lo", "type": "quantitative", "scale": {"domain": [35, 50], "nice": false, "zero": false},
                  "axis": {"orient": "bottom", "values": [36, 38, 40, 42, 44, 46, 48, 50], "tickSize": -5, "labelPadding": 9, "labelFlush": false, "labelOverlap": false, "title": "VLSR (km s⁻¹)", "titlePadding": 2}},
            "x2": {"field": "hi"},
            "y": {"field": "n", "type": "quantitative", "scale": {"domain": [-0.5, 35], "nice": false, "zero": false},
                  "axis": {"orient": "left", "values": [0, 5, 10, 15, 20, 25, 30, 35], "tickSize": -5, "labelPadding": 7, "title": null}},
            "y2": {"datum": 0}
          }
        },
        {
          "data": {"name": "comps"},
          "transform": [{"filter": "datum.p == 'G2'"}],
          "mark": {"type": "line", "interpolate": "monotone", "stroke": "#000000", "strokeWidth": 1.5, "strokeDash": [5, 3]},
          "encoding": {
            "x": {"field": "v", "type": "quantitative", "axis": {"orient": "bottom", "tickCount": 30, "tickSize": -2.5, "labels": false, "title": null}},
            "y": {"field": "n", "type": "quantitative", "axis": {"orient": "left", "tickCount": 35, "tickSize": -2.5, "labels": false, "title": null}},
            "detail": {"field": "g"}
          }
        },
        {
          "data": {"name": "fits"},
          "transform": [{"filter": "datum.p == 'G2'"}],
          "mark": {"type": "line", "interpolate": "monotone", "stroke": "#000000", "strokeWidth": 2},
          "encoding": {
            "x": {"field": "v", "type": "quantitative", "axis": {"orient": "top", "values": [36, 38, 40, 42, 44, 46, 48, 50], "tickSize": -5, "labels": false, "title": null}},
            "y": {"field": "n", "type": "quantitative", "axis": {"orient": "right", "values": [0, 5, 10, 15, 20, 25, 30, 35], "tickSize": -5, "labels": false, "title": null}}
          }
        },
        {
          "data": {"name": "res"},
          "transform": [{"filter": "datum.p == 'G2'"}],
          "mark": {"type": "rule", "stroke": "#000000", "strokeWidth": 1},
          "encoding": {
            "x": {"field": "lo", "type": "quantitative", "axis": {"orient": "top", "tickCount": 30, "tickSize": -2.5, "labels": false, "title": null}},
            "x2": {"field": "hi"},
            "y": {"field": "y", "type": "quantitative", "axis": {"orient": "right", "tickCount": 35, "tickSize": -2.5, "labels": false, "title": null}}
          }
        },
        {
          "data": {"name": "res"},
          "transform": [{"filter": "datum.p == 'G2'"}, {"fold": ["lo", "hi"]}],
          "mark": {"type": "tick", "orient": "vertical", "size": 6, "thickness": 1, "color": "#000000"},
          "encoding": {
            "x": {"field": "value", "type": "quantitative", "axis": null},
            "y": {"field": "y", "type": "quantitative", "axis": null}
          }
        }
      ],
      "resolve": {"axis": {"x": "independent", "y": "independent"}}
    }
  ],
  "resolve": {"scale": {"stroke": "independent"}, "legend": {"stroke": "independent"}},
  "config": {
    "font": "Liberation Sans",
    "view": {"stroke": "#000000", "strokeWidth": 1},
    "axis": {"domain": false, "grid": false, "tickColor": "#000000", "tickWidth": 1, "labelColor": "#000000", "labelFontSize": 10, "titleFontSize": 9.5, "titleFontWeight": "normal", "titleColor": "#000000"},
    "title": {"fontSize": 11.5, "fontWeight": "normal", "color": "#000000", "offset": -3},
    "legend": {"labelFont": "Liberation Sans"}
  }
}
